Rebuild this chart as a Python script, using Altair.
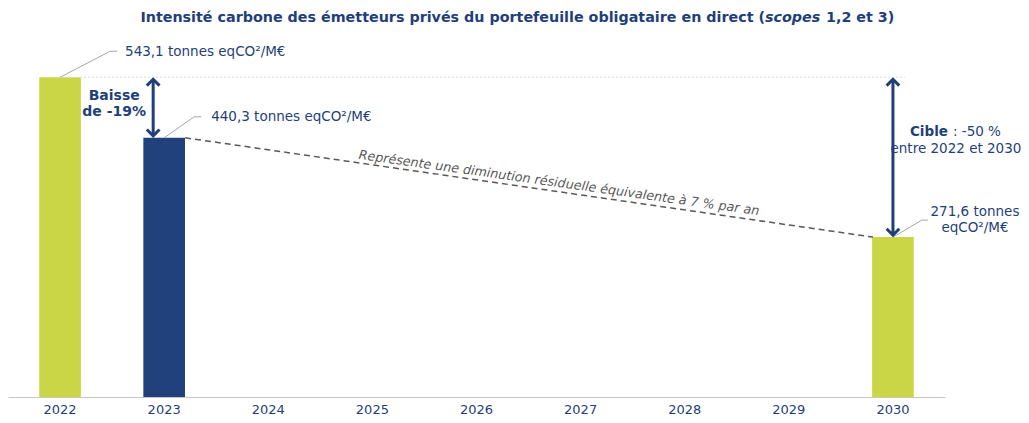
import altair as alt
import pandas as pd

# ---------------- data ----------------
years = ["2022", "2023", "2024", "2025", "2026", "2027", "2028", "2029", "2030"]
bar_years = ["2022", "2023", "2030"]
bar_values = [543.1, 440.3, 271.6]
bar_colors = ["#CAD646", "#21417C", "#CAD646"]
value_labels = ["543,1 tonnes eqCO²/M€", "440,3 tonnes eqCO²/M€", "271,6 tonnes\neqCO²/M€"]

title_parts = ["Intensité carbone des émetteurs privés du portefeuille obligataire en direct (",
               "scopes", "1,2 et 3)"]
drop_label = "Baisse\nde -19%"
target_bold = "Cible"
target_rest = ": -50 %"
target_line2 = "entre 2022 et 2030"
trend_label = "Représente une diminution résiduelle équivalente à 7 % par an"

# ---------------- style ----------------
BLUE = "#1F3F7A"
GREY = "#A6A6A6"
DARK = "#595959"
FONT = "DejaVu Sans"
W, H = 937, 365
FS = 13.5

bars_df = pd.DataFrame({"year": bar_years, "value": bar_values,
                        "color": bar_colors, "label": value_labels})


def X(field="year"):
    return alt.X(f"{field}:N",
                 scale=alt.Scale(domain=years, paddingInner=0.6, paddingOuter=0.3),
                 axis=alt.Axis(title=None, labelAngle=0, ticks=False, labelFont=FONT,
                               labelFontSize=13, labelColor=BLUE, labelPadding=6,
                               domainColor="#C8C8C8", domainWidth=1.2, grid=False))


def Y(field="value"):
    return alt.Y(f"{field}:Q", scale=alt.Scale(domain=[0, 620], nice=False), axis=None)


layers = []

# bars
layers.append(alt.Chart(bars_df).mark_bar().encode(
    x=X(), y=Y(), color=alt.Color("color:N", scale=None)))

# dotted reference at 2022 level
ref_df = pd.DataFrame({"year": [bar_years[0]], "year2": [bar_years[2]], "value": [bar_values[0]]})
layers.append(alt.Chart(ref_df).mark_rule(color="#DCDCDC", strokeDash=[2, 2], x2Offset=12,
                                          strokeWidth=1).encode(
    x=X(), x2="year2:N", y=Y()))

# dashed trend line 2023 -> 2030
trend_df = pd.DataFrame({"year": [bar_years[1]], "year2": [bar_years[2]],
                         "value": [bar_values[1]], "value2": [bar_values[2]]})
layers.append(alt.Chart(trend_df).mark_rule(color=DARK, strokeDash=[6, 4], strokeWidth=1.5,
                                            xOffset=21, x2Offset=-20).encode(
    x=X(), x2="year2:N", y=Y(), y2="value2:Q"))

# leader lines + value labels
leader = [  # (diag dx, diag dy, horiz end dx, text dx, text dy, align)
    (50, -26, 57, 65, -25, "left"),
    (30, -21, 37, 47, -21, "left"),
    (29, -17, 35, 82, -25, "center"),
]
for i, (ddx, ddy, hx, tdx, tdy, al) in enumerate(leader):
    d = bars_df.iloc[[i]]
    base = alt.Chart(d)
    layers.append(base.mark_rule(color=GREY, strokeWidth=1, x2Offset=ddx, y2Offset=ddy).encode(
        x=X(), x2="year:N", y=Y(), y2="value:Q"))
    layers.append(base.mark_rule(color=GREY, strokeWidth=1, xOffset=ddx, x2Offset=hx,
                                 yOffset=ddy, y2Offset=ddy).encode(
        x=X(), x2="year:N", y=Y(), y2="value:Q"))
    layers.append(base.mark_text(align=al, baseline="middle", dx=tdx, dy=tdy, font=FONT,
                                 fontSize=FS, color=BLUE, lineBreak="\n", lineHeight=16).encode(
        x=X(), y=Y(), text="label:N"))

# double arrows
arrows = [  # (year, top, bottom, xOffset)
    (bar_years[1], bar_values[0], bar_values[1], -11),
    (bar_years[2], bar_values[0], bar_values[2], 0),
]
UP = "M-1,1L0,0L1,1"
DOWN = "M-1,-1L0,0L1,-1"
for yr, top, bot, xo in arrows:
    a = pd.DataFrame({"year": [yr], "value": [top], "value2": [bot]})
    base = alt.Chart(a)
    layers.append(base.mark_rule(color=BLUE, strokeWidth=3, xOffset=xo, yOffset=2,
                                 y2Offset=-2).encode(x=X(), y=Y(), y2="value2:Q"))
    layers.append(base.mark_point(shape=UP, filled=False, color=BLUE, strokeWidth=3, size=160,
                                  xOffset=xo, yOffset=2, opacity=1).encode(x=X(), y=Y()))
    layers.append(base.mark_point(shape=DOWN, filled=False, color=BLUE, strokeWidth=3, size=160,
                                  xOffset=xo, yOffset=-2, opacity=1).encode(x=X(), y=Y("value2")))

# drop annotation
drop_df = pd.DataFrame({"year": [bar_years[1]], "value": [(bar_values[0] + bar_values[1]) / 2],
                        "t": [drop_label]})
layers.append(alt.Chart(drop_df).mark_text(align="center", baseline="middle", dx=-50, dy=-12,
                                           font=FONT, fontSize=14, fontWeight="bold", color=BLUE,
                                           lineBreak="\n", lineHeight=16).encode(
    x=X(), y=Y(), text="t:N"))

# target annotation
tg_df = pd.DataFrame({"year": [bar_years[2]], "value": [(bar_values[0] + bar_values[2]) / 2],
                      "a": [target_bold], "b": [target_rest], "c": [target_line2]})
tg = alt.Chart(tg_df)
layers.append(tg.mark_text(align="right", baseline="middle", dx=55, dy=-25, font=FONT,
                           fontSize=FS, fontWeight="bold", color=BLUE).encode(
    x=X(), y=Y(), text="a:N"))
layers.append(tg.mark_text(align="left", baseline="middle", dx=60, dy=-25, font=FONT,
                           fontSize=FS, color=BLUE).encode(x=X(), y=Y(), text="b:N"))
layers.append(tg.mark_text(align="center", baseline="middle", dx=63, dy=-8, font=FONT,
                           fontSize=FS, color=BLUE).encode(x=X(), y=Y(), text="c:N"))

# trend label
tl_df = pd.DataFrame({"t": [trend_label]})
layers.append(alt.Chart(tl_df).mark_text(align="center", baseline="middle", angle=8, font=FONT,
                                         fontSize=12.75, fontStyle="italic", color=DARK).encode(
    x=alt.value(551), y=alt.value(151), text="t:N"))

# title (three parts so 'scopes' can be italic)
TX = 757
TY = -14
TFS = 14.3
tt_df = pd.DataFrame({"a": [title_parts[0]], "b": [title_parts[1]], "c": [title_parts[2]]})
tt = alt.Chart(tt_df)
layers.append(tt.mark_text(align="right", baseline="middle", font=FONT, fontSize=TFS,
                           fontWeight="bold", color=BLUE).encode(
    x=alt.value(TX), y=alt.value(TY), text="a:N"))
layers.append(tt.mark_text(align="left", baseline="middle", font=FONT, fontSize=TFS,
                           fontWeight="bold", fontStyle="italic", color=BLUE).encode(
    x=alt.value(TX), y=alt.value(TY), text="b:N"))
layers.append(tt.mark_text(align="left", baseline="middle", font=FONT, fontSize=TFS,
                           fontWeight="bold", color=BLUE).encode(
    x=alt.value(TX + 61), y=alt.value(TY), text="c:N"))

chart = alt.layer(*layers).properties(
    width=W, height=H,
    autosize=alt.AutoSizeParams(type="none"),
    padding={"left": 0, "top": 24, "right": 76, "bottom": 18},
).configure(background="white", view=alt.ViewConfig(stroke=None))

chart.save("out.html", embed_options={"renderer": "svg", "actions": False})
